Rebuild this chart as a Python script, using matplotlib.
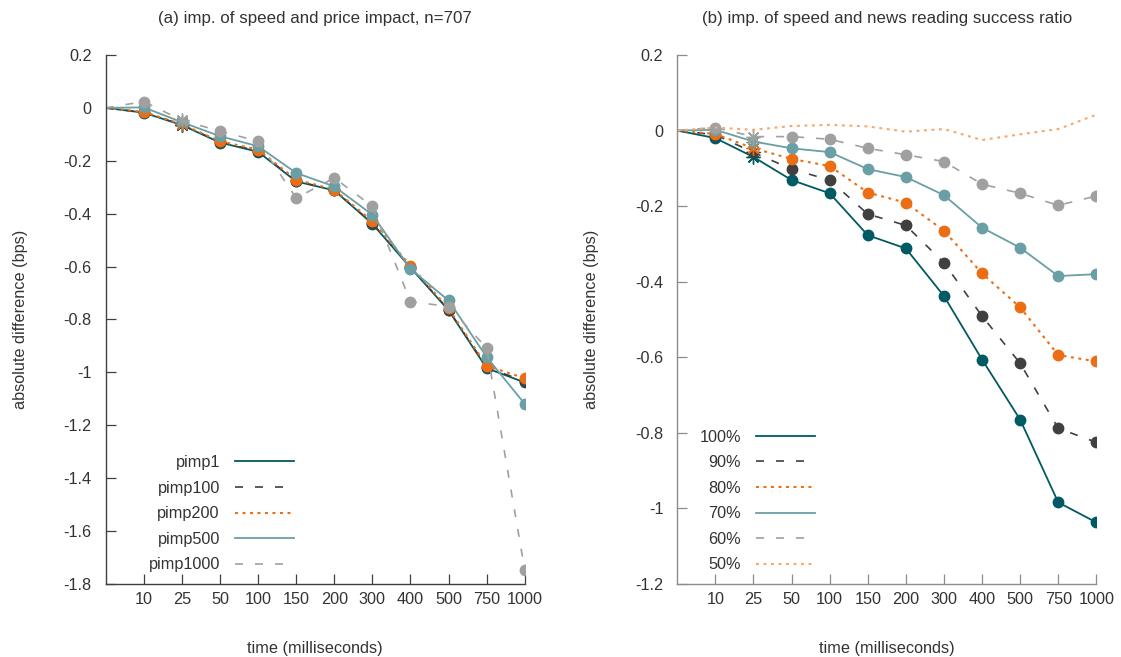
import matplotlib
matplotlib.use("Agg")
import matplotlib.pyplot as plt

plt.rcParams.update({
    "font.family": ["Liberation Sans", "DejaVu Sans"],
    "font.size": 11.7,
    "text.color": "#333333",
    "axes.labelcolor": "#333333",
    "xtick.color": "#333333",
    "ytick.color": "#333333",
})

# x categories (position 0 is the unlabeled origin)
times = ["10", "25", "50", "100", "150", "200", "300", "400", "500", "750", "1000"]
xpos = list(range(len(times) + 1))

# (a) price impact
pimp1 = [0, -0.018, -0.065, -0.131, -0.166, -0.278, -0.312, -0.438, -0.604, -0.765, -0.984, -1.038]
pimp100 = [0, -0.017, -0.064, -0.129, -0.163, -0.276, -0.311, -0.436, -0.602, -0.763, -0.980, -1.034]
pimp200 = [0, -0.015, -0.062, -0.126, -0.158, -0.271, -0.309, -0.429, -0.597, -0.758, -0.975, -1.022]
pimp500 = [0, 0.002, -0.054, -0.107, -0.145, -0.246, -0.297, -0.404, -0.609, -0.728, -0.942, -1.119]
pimp1000 = [0, 0.024, -0.047, -0.088, -0.126, -0.341, -0.265, -0.372, -0.732, -0.751, -0.908, -1.747]

# (b) news reading success ratio
r100 = [0, -0.020, -0.070, -0.131, -0.166, -0.277, -0.312, -0.438, -0.606, -0.765, -0.984, -1.037]
r90 = [0, -0.011, -0.058, -0.102, -0.131, -0.221, -0.251, -0.350, -0.491, -0.616, -0.788, -0.825]
r80 = [0, -0.009, -0.047, -0.075, -0.094, -0.164, -0.191, -0.265, -0.378, -0.468, -0.594, -0.611]
r70 = [0, 0.002, -0.029, -0.047, -0.057, -0.102, -0.123, -0.171, -0.257, -0.310, -0.385, -0.380]
r60 = [0, 0.008, -0.016, -0.016, -0.023, -0.047, -0.064, -0.082, -0.142, -0.166, -0.198, -0.173]
r50 = [0, 0.008, 0.002, 0.012, 0.015, 0.011, -0.003, 0.004, -0.025, -0.010, 0.004, 0.042]

c_dteal = "#005a63"
c_dgrey = "#404040"
c_orange = "#eb6e14"
c_lteal = "#6a9fa5"
c_grey = "#a0a0a0"
c_lorange = "#f6a86e"

solid = "-"
dash = (0, (4.8, 7.2))
dot = (0, (1.4, 2.2))

circ_idx = [1, 3, 4, 5, 6, 7, 8, 9, 10, 11]
star_idx = [2]


def draw(ax, y, color, ls, lw, label, markers=True):
    ax.plot(xpos, y, color=color, linestyle=ls, lw=lw, label=label)
    if markers:
        ax.plot([xpos[i] for i in circ_idx], [y[i] for i in circ_idx], "o",
                color=color, ms=7.5, mec=color)
        ax.plot([xpos[i] for i in star_idx], [y[i] for i in star_idx],
                marker=(8, 2, 0), ls="none", color=color, ms=10, mew=1.0)


def style(ax, ymin, spine_col):
    ax.set_xlim(0, 11)
    ax.set_ylim(ymin, 0.2)
    ax.spines["top"].set_visible(False)
    ax.spines["right"].set_visible(False)
    for s in ("left", "bottom"):
        ax.spines[s].set_color(spine_col)
        ax.spines[s].set_linewidth(1.0)
    ax.set_xticks(xpos[1:])
    ax.set_xticklabels(times)
    ax.tick_params(axis="both", direction="in", length=7.5, width=0.9, color=spine_col)
    ax.tick_params(axis="y", pad=10)
    ax.tick_params(axis="x", pad=6)
    ax.set_xlabel("time (milliseconds)", labelpad=24)
    ax.set_ylabel("absolute difference (bps)", labelpad=26)


def legend(ax, xr):
    ax.legend(loc="lower right", bbox_to_anchor=(xr, 0.022), frameon=False,
              markerfirst=False, handlelength=3.65, handletextpad=0.9,
              labelspacing=0.65, borderpad=0, borderaxespad=0)


fig = plt.figure(figsize=(11.21, 6.57), dpi=100)
ax1 = fig.add_axes([0.0943, 0.1111, 0.3738, 0.8052])
ax2 = fig.add_axes([0.6042, 0.1111, 0.3738, 0.8052])

draw(ax1, pimp1, c_dteal, solid, 1.3, "pimp1")
draw(ax1, pimp100, c_dgrey, dash, 1.2, "pimp100")
draw(ax1, pimp200, c_orange, dot, 1.5, "pimp200")
draw(ax1, pimp500, c_lteal, solid, 1.3, "pimp500")
draw(ax1, pimp1000, c_grey, dash, 1.2, "pimp1000")
style(ax1, -1.8, "#404040")
ax1.set_yticks([0.2, 0, -0.2, -0.4, -0.6, -0.8, -1, -1.2, -1.4, -1.6, -1.8])
ax1.set_yticklabels(["0.2", "0", "-0.2", "-0.4", "-0.6", "-0.8", "-1", "-1.2", "-1.4", "-1.6", "-1.8"])
ax1.set_title("(a) imp. of speed and price impact, n=707", pad=23, fontsize=12.2)
legend(ax1, 0.449)

draw(ax2, r100, c_dteal, solid, 1.3, "100%")
draw(ax2, r90, c_dgrey, dash, 1.2, "90%")
draw(ax2, r80, c_orange, dot, 1.5, "80%")
draw(ax2, r70, c_lteal, solid, 1.3, "70%")
draw(ax2, r60, c_grey, dash, 1.2, "60%")
draw(ax2, r50, c_lorange, dot, 1.5, "50%", markers=False)
style(ax2, -1.2, "#8c8c8c")
ax2.set_yticks([0.2, 0, -0.2, -0.4, -0.6, -0.8, -1, -1.2])
ax2.set_yticklabels(["0.2", "0", "-0.2", "-0.4", "-0.6", "-0.8", "-1", "-1.2"])
ax2.set_title("(b) imp. of speed and news reading success ratio", pad=23, fontsize=12.2)
legend(ax2, 0.329)

fig.savefig("out.png", dpi=100)
